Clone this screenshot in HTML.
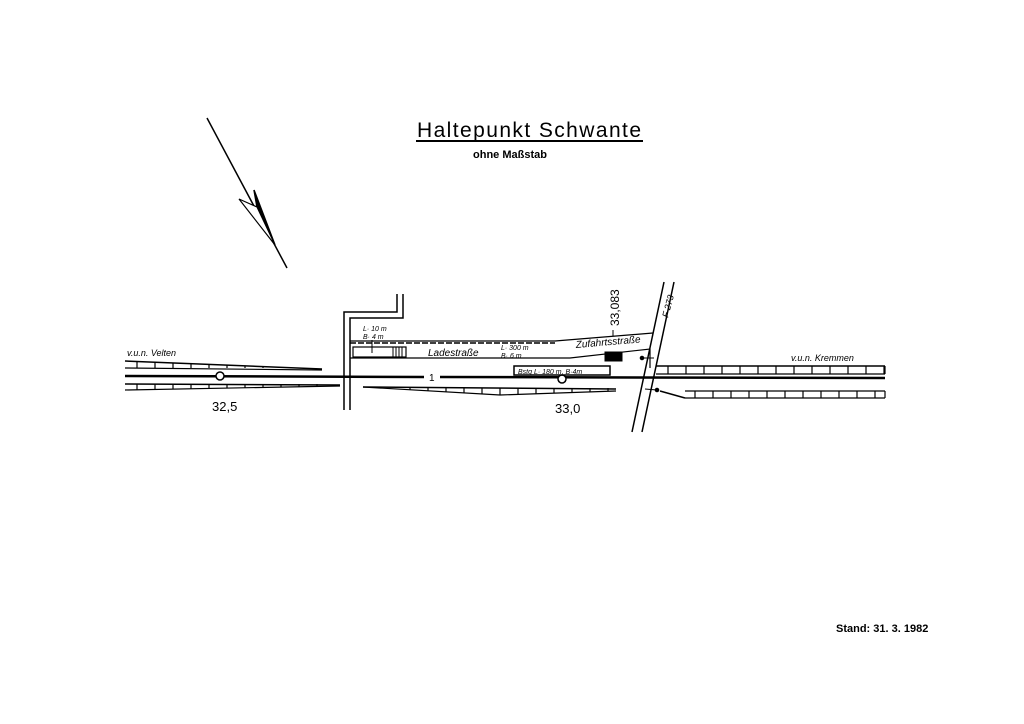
<!DOCTYPE html>
<html><head><meta charset="utf-8"><style>
html,body{margin:0;padding:0;background:#fff}
svg{display:block}
text{font-family:"Liberation Sans",sans-serif;fill:#000}
</style></head><body>
<svg id="s" width="1024" height="724" viewBox="0 0 1024 724" xmlns="http://www.w3.org/2000/svg" stroke="#000" fill="none">
<!-- title -->
<text x="417" y="137" font-size="21" stroke="none" textLength="224">Haltepunkt  Schwante</text>
<line x1="416" y1="141" x2="643" y2="141" stroke-width="2"/>
<text x="473" y="158" font-size="11" font-weight="bold" stroke="none">ohne Maßstab</text>
<!-- north arrow -->
<line x1="207" y1="118" x2="287" y2="268" stroke-width="1.5"/>
<path d="M254,190 L275,245 L257,207 Z" fill="#000" stroke-width="1.5"/>
<path d="M239,199 L275,245 L257,207 Z" fill="#fff" stroke-width="1.2"/>
<!-- main track -->
<line x1="125" y1="376" x2="424" y2="377" stroke-width="2.5"/>
<line x1="440" y1="377" x2="885" y2="378" stroke-width="2.5"/>
<text x="429" y="381" font-size="10" stroke="none">1</text>
<circle cx="220" cy="376" r="4" fill="#fff" stroke-width="1.5"/>
<circle cx="562" cy="379" r="4" fill="#fff" stroke-width="1.5"/>
<!-- left bands -->
<line x1="125" y1="361" x2="322" y2="369" stroke-width="1.5"/>
<line x1="125" y1="368" x2="322" y2="370" stroke-width="1.2"/>
<line x1="125" y1="384" x2="340" y2="385" stroke-width="1.5"/>
<line x1="125" y1="390" x2="340" y2="386" stroke-width="1.2"/>
<!-- middle lower band -->
<line x1="363" y1="387" x2="616" y2="389" stroke-width="1.5"/>
<line x1="363" y1="387" x2="500" y2="395" stroke-width="1.2"/>
<line x1="500" y1="395" x2="616" y2="391" stroke-width="1.2"/>
<!-- right bands -->
<line x1="656" y1="366" x2="885" y2="366" stroke-width="1.5"/>
<line x1="656" y1="374" x2="885" y2="374" stroke-width="1.2"/>
<line x1="660" y1="391" x2="685" y2="398" stroke-width="1.5"/>
<line x1="685" y1="398" x2="885" y2="398" stroke-width="1.2"/>
<line x1="685" y1="391" x2="885" y2="391" stroke-width="1.2"/>
<g id="ticks" stroke-width="1.2"></g>
<!-- left road -->
<path d="M344,410 V312 H397 V294" stroke-width="1.5"/>
<path d="M350,410 V318 H403 V294" stroke-width="1.5"/>
<!-- Ladestrasse -->
<path d="M350,341 H555 L653,333" stroke-width="1.2"/>
<line x1="350" y1="343" x2="555" y2="343" stroke-width="1.5" stroke-dasharray="6,2"/>
<path d="M350,358 H570 L650,349 V368" stroke-width="1.2"/>
<rect x="353" y="347" width="53" height="10" stroke-width="1.2"/>
<line x1="393" y1="347" x2="393" y2="357"/><line x1="396" y1="347" x2="396" y2="357"/><line x1="399" y1="347" x2="399" y2="357"/><line x1="402" y1="347" x2="402" y2="357"/>
<line x1="372" y1="340" x2="372" y2="353"/>
<text x="363" y="331" font-size="7" font-style="italic" stroke="none">L· 10 m</text>
<text x="363" y="339" font-size="7" font-style="italic" stroke="none">B· 4 m</text>
<text x="428" y="356" font-size="10" font-style="italic" stroke="none">Ladestraße</text>
<text x="501" y="350" font-size="7" font-style="italic" stroke="none">L· 300 m</text>
<text x="501" y="358" font-size="7" font-style="italic" stroke="none">B·  6 m</text>
<text x="576" y="348" font-size="10" font-style="italic" stroke="none" transform="rotate(-5 576 348)">Zufahrtsstraße</text>
<rect x="605" y="352" width="17" height="9" fill="#000" stroke-width="1"/>
<rect x="514" y="366" width="96" height="9" stroke-width="1.5"/>
<text x="518" y="374" font-size="7" font-style="italic" stroke="none">Bstg  L· 180 m, B·4m</text>
<!-- km marker -->
<line x1="613" y1="330" x2="613" y2="336" stroke-width="1"/>
<text x="0" y="0" font-size="12" stroke="none" transform="translate(619,326) rotate(-90)">33,083</text>
<!-- F273 road -->
<line x1="664" y1="282" x2="632" y2="432" stroke-width="1.5"/>
<line x1="674" y1="282" x2="642" y2="432" stroke-width="1.5"/>
<text x="0" y="0" font-size="9" font-style="italic" stroke="none" transform="translate(668,318) rotate(-75)">F 273</text>
<!-- signals -->
<circle cx="642" cy="358" r="1.8" fill="#000"/><line x1="642" y1="358" x2="654" y2="358"/>
<circle cx="657" cy="390" r="1.8" fill="#000"/><line x1="645" y1="389" x2="657" y2="390"/>
<!-- labels -->
<text x="127" y="356" font-size="9" font-style="italic" stroke="none">v.u.n. Velten</text>
<text x="791" y="361" font-size="9" font-style="italic" stroke="none">v.u.n.  Kremmen</text>
<text x="212" y="411" font-size="13" stroke="none">32,5</text>
<text x="555" y="413" font-size="13" stroke="none">33,0</text>
<text x="836" y="632" font-size="11" font-weight="bold" stroke="none">Stand: 31. 3. 1982</text>
</svg>
<script>
var g=document.getElementById('ticks'),ns='http://www.w3.org/2000/svg';
function L(x1,y1,x2,y2){var l=document.createElementNS(ns,'line');l.setAttribute('x1',x1);l.setAttribute('y1',y1);l.setAttribute('x2',x2);l.setAttribute('y2',y2);g.appendChild(l);}
for(var x=137;x<310;x+=18){var t=361+(x-125)*8/197;L(x,t,x,368);}
for(var x=137;x<330;x+=18){var b=390-(x-125)*4/215;L(x,384,x,b);}
for(var x=410;x<610;x+=18){var b=x<500?387+(x-363)*8/137:395-(x-500)*4/116;L(x,388,x,b);}
for(var x=668;x<885;x+=18){L(x,366,x,374);}
L(885,366,885,374);L(885,391,885,398);
for(var x=695;x<885;x+=18){L(x,391,x,398);}
</script>
</body></html>
